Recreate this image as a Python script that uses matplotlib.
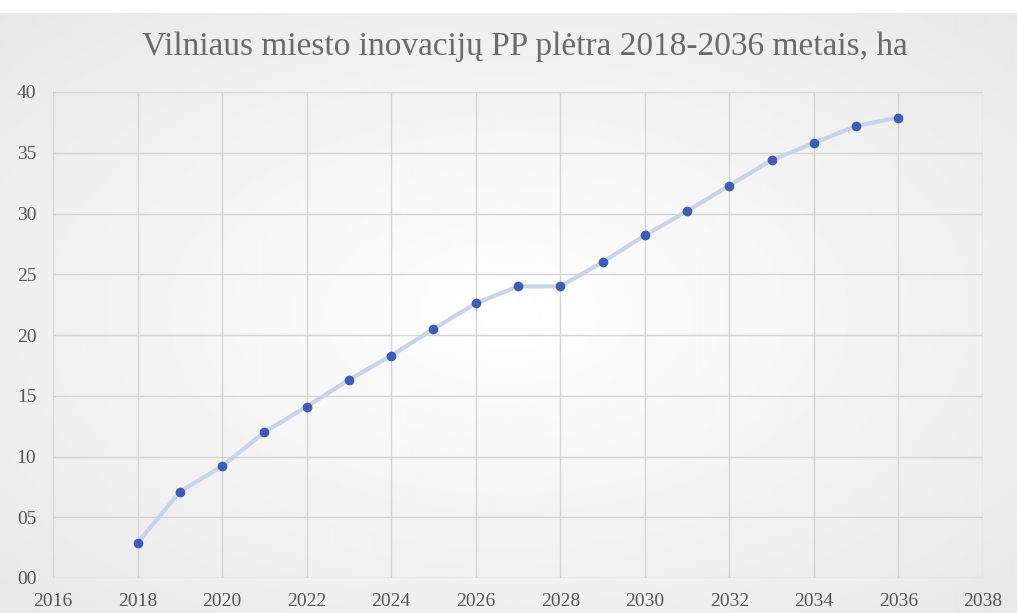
import matplotlib
matplotlib.use('Agg')
import matplotlib.pyplot as plt
import numpy as np

# data
years = [2018, 2019, 2020, 2021, 2022, 2023, 2024, 2025, 2026, 2027,
         2028, 2029, 2030, 2031, 2032, 2033, 2034, 2035, 2036]
area_ha = [2.9, 7.1, 9.2, 12.0, 14.1, 16.3, 18.3, 20.5, 22.6, 24.0,
           24.0, 26.0, 28.2, 30.2, 32.3, 34.4, 35.8, 37.2, 37.9]
x_ticks = list(range(2016, 2038 + 1, 2))
y_ticks = list(range(0, 40 + 1, 5))
title = 'Vilniaus miesto inovacijų PP plėtra 2018-2036 metais, ha'

plt.rcParams['font.family'] = ['Liberation Serif', 'DejaVu Serif']

fig = plt.figure(figsize=(10.17, 6.13), dpi=100)
fig.patch.set_facecolor('white')

# soft radial background panel below the white strip
bg = fig.add_axes([0, 0, 1, 600 / 613])
yy, xx = np.mgrid[-1:1:300j, -1:1:500j]
r = np.sqrt(xx ** 2 + yy ** 2)
bg.imshow(1 - 0.09 * np.clip(r, 0, 1.4) / 1.4, cmap='gray', vmin=0, vmax=1,
          aspect='auto', extent=[0, 1, 0, 1])
bg.axis('off')

ax = fig.add_axes([53 / 1017, 35 / 613, 930 / 1017, 486 / 613])
ax.set_facecolor('none')
ax.plot(years, area_ha, color='#c8d4ec', lw=3, solid_capstyle='round', zorder=2)
ax.plot(years, area_ha, 'o', color='#3e5db3', ms=6, zorder=3)

ax.set_xlim(2016, 2038)
ax.set_ylim(0, 40)
ax.set_xticks(x_ticks)
ax.set_yticks(y_ticks)
ax.set_yticklabels(['%02d' % v for v in y_ticks])
ax.grid(True, color='#d4d4d4', lw=1)
ax.set_axisbelow(True)
for s in ax.spines.values():
    s.set_visible(False)
ax.tick_params(length=0, labelsize=14, labelcolor='#555555')
ax.tick_params(axis='x', pad=11)
ax.tick_params(axis='y', pad=12)

fig.text(0.516, 0.924, title, ha='center', va='center', fontsize=24, color='#6a6a6a')

fig.savefig('out.png', dpi=100)
